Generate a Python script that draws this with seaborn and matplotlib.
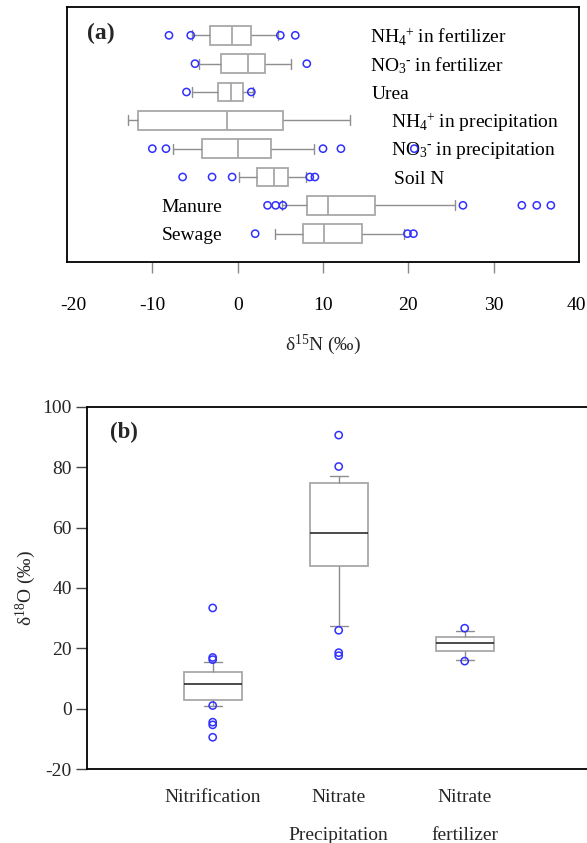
import numpy as np
import pandas as pd
import matplotlib
matplotlib.use("Agg")
import matplotlib.pyplot as plt
import matplotlib.transforms as mtrans
import seaborn as sns

# ---- δ15N of nitrogen sources (box summaries: whisker ends, quartiles, median) ----
sources = ["NH4+ in fertilizer", "NO3- in fertilizer", "Urea", "NH4+ in precipitation",
           "NO3- in precipitation", "Soil N", "Manure", "Sewage"]
source_labels = [r"NH$_4$$^{+}\;$in fertilizer", r"NO$_3$$^{\text{-}}\;$in fertilizer", "Urea",
                 r"NH$_4$$^{+}\;$in precipitation", r"NO$_3$$^{\text{-}}\;$in precipitation",
                 "Soil N", "Manure", "Sewage"]
n15_low = [-5.4, -4.5, -5.4, -12.9, -7.6, 0.1, 5.2, 4.4]
n15_q1 = [-3.25, -2.0, -2.3, -11.7, -4.2, 2.3, 8.1, 7.7]
n15_median = [-0.7, 1.2, -0.8, -1.3, 0.0, 4.2, 10.6, 10.15]
n15_q3 = [1.6, 3.2, 0.6, 5.35, 3.9, 5.9, 16.1, 14.6]
n15_high = [4.7, 6.2, 1.8, 13.2, 9.0, 8.0, 25.5, 19.5]

n15_outlier_source = (["NH4+ in fertilizer"] * 4 + ["NO3- in fertilizer"] * 2 + ["Urea"] * 2
                      + ["NO3- in precipitation"] * 5 + ["Soil N"] * 5 + ["Manure"] * 7
                      + ["Sewage"] * 3)
n15_outlier_value = [-8.05, -5.5, 5.0, 6.75,
                     -5.0, 8.1,
                     -6.0, 1.6,
                     -10.0, -8.4, 10.0, 12.1, 20.7,
                     -6.45, -3.0, -0.65, 8.45, 9.05,
                     3.5, 4.45, 5.3, 26.4, 33.3, 35.05, 36.7,
                     2.05, 19.9, 20.6]
n15_ticks = [-20, -10, 0, 10, 20, 30, 40]

# ---- δ18O of nitrate sources ----
processes = ["Nitrification", "Nitrate Precipitation", "Nitrate fertilizer"]
process_ticklabels = ["Nitrification", "Nitrate\nPrecipitation", "Nitrate\nfertilizer"]
o18_low = [1.0, 27.5, 16.1]
o18_q1 = [2.85, 47.3, 19.2]
o18_median = [8.3, 58.2, 21.9]
o18_q3 = [12.35, 74.7, 23.7]
o18_high = [15.4, 77.2, 25.8]

o18_outlier_process = (["Nitrification"] * 7 + ["Nitrate Precipitation"] * 5
                       + ["Nitrate fertilizer"] * 2)
o18_outlier_value = [33.4, 17.0, 16.3, 1.1, -4.4, -5.3, -9.4,
                     90.6, 80.2, 26.0, 18.6, 17.6,
                     26.7, 15.8]
o18_ticks = [-20, 0, 20, 40, 60, 80, 100]

# ---- styling ----
sns.set_theme(style="ticks")
SERIF = "Liberation Serif"
plt.rcParams["font.family"] = [SERIF, "DejaVu Serif"]
plt.rcParams["mathtext.fontset"] = "custom"
plt.rcParams["mathtext.rm"] = SERIF
plt.rcParams["mathtext.it"] = SERIF + ":italic"
plt.rcParams["mathtext.bf"] = SERIF + ":bold"
FS = 14
BOX_GRAY = "#a8a8a8"
WHISKER_GRAY = "#8e8e8e"
FLIER_BLUE = "#3030ff"


def summary_frame(groups, stats, group_col, value_col):
    vals = np.column_stack(stats).ravel()
    return pd.DataFrame({group_col: np.repeat(groups, len(stats)), value_col: vals})


fig = plt.figure(figsize=(5.87, 8.43), dpi=100)

# ================= (a) δ15N =================
ax1 = fig.add_axes([0.11414, 0.68921, 0.87223, 0.30249])
box_n = summary_frame(sources, [n15_low, n15_q1, n15_median, n15_q3, n15_high],
                      "source", "d15N")
sns.boxplot(data=box_n, x="d15N", y="source", order=sources, orient="y",
            whis=(0, 100), width=0.66, color="white", linecolor=BOX_GRAY,
            linewidth=1.3, capwidths=0.36,
            medianprops={"color": BOX_GRAY, "linewidth": 1.3},
            whiskerprops={"color": WHISKER_GRAY, "linewidth": 1.0},
            capprops={"color": WHISKER_GRAY, "linewidth": 1.0},
            ax=ax1)
fl_n = pd.DataFrame({"source": n15_outlier_source, "d15N": n15_outlier_value})
sns.stripplot(data=fl_n, x="d15N", y="source", order=sources, orient="y",
              jitter=False, size=5.2, marker="o", facecolor="none",
              edgecolor=FLIER_BLUE, linewidth=1.1, ax=ax1, zorder=5)

ax1.set_xlim(-20, 40)
ax1.set_ylim(8, -1)
ax1.set_yticks([])
ax1.set_ylabel("")
ax1.set_xticks(n15_ticks)
ax1.set_xticklabels([str(t) for t in n15_ticks], fontsize=FS)
ax1.tick_params(axis="x", direction="out", length=8, width=1.0, color="#8a8a8a",
                pad=17.5, labelcolor="black")
xticks_a = ax1.xaxis.get_major_ticks()
for t in (xticks_a[0], xticks_a[-1]):
    t.tick1line.set_visible(False)
# end labels sit slightly inside the frame corners
for t, dx in ((xticks_a[0], 0.06), (xticks_a[-1], -0.025)):
    t.label1.set_transform(t.label1.get_transform()
                           + mtrans.ScaledTranslation(dx, 0, fig.dpi_scale_trans))
ax1.set_xlabel(r"δ$^{15}$N (‰)", fontsize=FS, labelpad=13)
for sp in ax1.spines.values():
    sp.set_visible(True)
    sp.set_color("black")
    sp.set_linewidth(1.3)

label_x = [15.5, 15.5, 15.7, 18.0, 18.0, 18.3, -8.9, -8.9]
for i, (lab, lx) in enumerate(zip(source_labels, label_x)):
    ax1.text(lx, i + 0.08, lab, fontsize=FS, ha="left", va="center", color="black")
ax1.text(0.039, 0.898, "(a)", transform=ax1.transAxes, fontsize=17,
         fontweight="bold", ha="left", va="center")

# ================= (b) δ18O =================
ax2 = fig.add_axes([0.1477, 0.08743, 0.8586, 0.43013])
box_o = summary_frame(processes, [o18_low, o18_q1, o18_median, o18_q3, o18_high],
                      "process", "d18O")
sns.boxplot(data=box_o, x="process", y="d18O", order=processes, orient="x",
            whis=(0, 100), width=0.46, color="white", linecolor=BOX_GRAY,
            linewidth=1.3, capwidths=0.14,
            medianprops={"color": "#1a1a1a", "linewidth": 1.1},
            whiskerprops={"color": WHISKER_GRAY, "linewidth": 1.0},
            capprops={"color": WHISKER_GRAY, "linewidth": 1.0},
            ax=ax2)
fl_o = pd.DataFrame({"process": o18_outlier_process, "d18O": o18_outlier_value})
sns.stripplot(data=fl_o, x="process", y="d18O", order=processes, orient="x",
              jitter=False, size=5.2, marker="o", facecolor="none",
              edgecolor=FLIER_BLUE, linewidth=1.1, ax=ax2, zorder=5)

ax2.set_xlim(-1, 3)
ax2.set_ylim(-20, 100)
ax2.set_yticks(o18_ticks)
ax2.set_yticklabels([str(t) for t in o18_ticks], fontsize=FS)
ax2.set_xticks(range(len(processes)))
ax2.set_xticklabels(process_ticklabels, fontsize=FS, linespacing=2.6)
ax2.tick_params(axis="y", direction="out", length=7.7, width=1.0, color="#444444", pad=3)
ax2.tick_params(axis="x", length=0, pad=14)
ax2.set_xlabel("")
ax2.set_ylabel(r"δ$^{18}$O (‰)", fontsize=FS, labelpad=3.5)
for name, sp in ax2.spines.items():
    sp.set_color("black")
    sp.set_linewidth(1.3)
    sp.set_visible(name != "right")
ax2.text(0.046, 0.929, "(b)", transform=ax2.transAxes, fontsize=16.5,
         fontweight="bold", ha="left", va="center")

fig.savefig("out.png", dpi=100)
